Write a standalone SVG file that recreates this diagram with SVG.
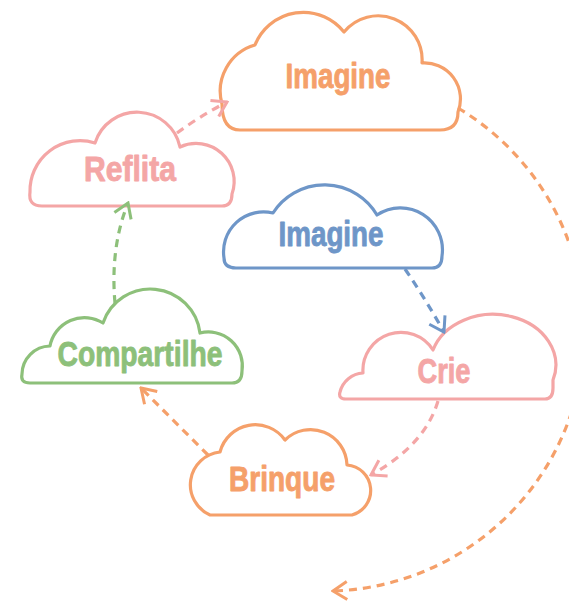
<svg xmlns="http://www.w3.org/2000/svg" width="569" height="601" viewBox="0 0 569 601">
<style>
.cloud{fill:#ffffff;stroke-width:3.2;stroke-linejoin:round}
.lbl{font-family:"Liberation Sans",Arial,sans-serif;font-weight:bold;font-size:35px;text-anchor:middle;stroke-width:0.9;stroke-linejoin:round}
.con{fill:none;stroke-width:3.2;stroke-dasharray:8 6}
.orange{stroke:#F5A06A}
.pink{stroke:#F4A6A6}
.blue{stroke:#6E96C8}
.green{stroke:#8DC07A}
.t-orange{fill:#F5A06A;stroke:#F5A06A}
.t-pink{fill:#F4A6A6;stroke:#F4A6A6}
.t-blue{fill:#6E96C8;stroke:#6E96C8}
.t-green{fill:#8DC07A;stroke:#8DC07A}
</style>
<defs>
<marker id="m-orange" viewBox="-16 -12 18 24" refX="0" refY="0" markerWidth="18" markerHeight="24" markerUnits="userSpaceOnUse" orient="auto"><path d="M-14,-9 L0,0 L-14,9" fill="none" stroke="#F5A06A" stroke-width="3"/></marker>
<marker id="m-pink" viewBox="-16 -12 18 24" refX="0" refY="0" markerWidth="18" markerHeight="24" markerUnits="userSpaceOnUse" orient="auto"><path d="M-14,-9 L0,0 L-14,9" fill="none" stroke="#F4A6A6" stroke-width="3"/></marker>
<marker id="m-blue" viewBox="-16 -12 18 24" refX="0" refY="0" markerWidth="18" markerHeight="24" markerUnits="userSpaceOnUse" orient="auto"><path d="M-14,-9 L0,0 L-14,9" fill="none" stroke="#6E96C8" stroke-width="3"/></marker>
<marker id="m-green" viewBox="-16 -12 18 24" refX="0" refY="0" markerWidth="18" markerHeight="24" markerUnits="userSpaceOnUse" orient="auto"><path d="M-14,-9 L0,0 L-14,9" fill="none" stroke="#8DC07A" stroke-width="3"/></marker>
</defs>

<g id="imagine-top">
<path class="cloud orange" d="M240,130 H440 Q458,130 458,112 A36,36 0 0 0 422,63 A44,44 0 0 0 344,32 A52,52 0 0 0 255,45 A48,48 0 0 0 222,104 Q222,130 240,130 Z"/>
<text class="lbl t-orange" x="338" y="88" textLength="105" lengthAdjust="spacingAndGlyphs">Imagine</text>
</g>

<g id="reflita">
<path class="cloud pink" d="M42,206 H222 Q232,206 232,194 A38,38 0 0 0 180,147 A44,44 0 0 0 95,143 A50,50 0 0 0 30,192 Q28,206 42,206 Z"/>
<text class="lbl t-pink" x="130" y="181" textLength="92" lengthAdjust="spacingAndGlyphs">Reflita</text>
</g>

<g id="imagine-mid">
<path class="cloud blue" d="M236,268 H432 Q442,268 442,256 A42,42 0 0 0 377,215 A61,61 0 0 0 273,213 A40,40 0 0 0 224,258 Q224,268 236,268 Z"/>
<text class="lbl t-blue" x="331" y="246" textLength="105" lengthAdjust="spacingAndGlyphs">Imagine</text>
</g>

<g id="compartilhe">
<path class="cloud green" d="M30,383 H232 Q242,383 242,371 A34,34 0 0 0 200,333 A50,50 0 0 0 103,323 A35,35 0 0 0 50,346 A28.5,28.5 0 0 0 22,374 Q20,383 30,383 Z"/>
<text class="lbl t-green" x="140" y="366" textLength="165" lengthAdjust="spacingAndGlyphs">Compartilhe</text>
</g>

<g id="crie">
<path class="cloud pink" d="M346,399 H545 Q553,399 553,388 L553,380 A62,50 0 0 0 433,350 A38,38 0 0 0 363,373 A25,25 0 0 0 340,392 Q338,399 346,399 Z"/>
<text class="lbl t-pink" x="444" y="383" textLength="53" lengthAdjust="spacingAndGlyphs">Crie</text>
</g>

<g id="brinque">
<path class="cloud orange" d="M210,515 H352 A25.5,25.5 0 0 0 347,465 A36.5,36.5 0 0 0 285,440 A36.5,36.5 0 0 0 220,452 A33,33 0 0 0 210,515 Z"/>
<text class="lbl t-orange" x="282" y="491" textLength="106" lengthAdjust="spacingAndGlyphs">Brinque</text>
</g>

<g id="connectors">
<path class="con pink" d="M177,133 Q200,116 227,102" marker-end="url(#m-pink)"/>
<path class="con blue" d="M405,269 Q426,300 444,332" marker-end="url(#m-blue)"/>
<path class="con pink" d="M438,401 Q425,445 371,475" marker-end="url(#m-pink)"/>
<path class="con orange" d="M208,455 L141,388" marker-end="url(#m-orange)"/>
<path class="con green" d="M115,303 C112,270 115,235 128,203" marker-end="url(#m-green)"/>
<path class="con orange" d="M458,108 A260,260 0 0 1 333,591" marker-end="url(#m-orange)"/>
</g>
</svg>
